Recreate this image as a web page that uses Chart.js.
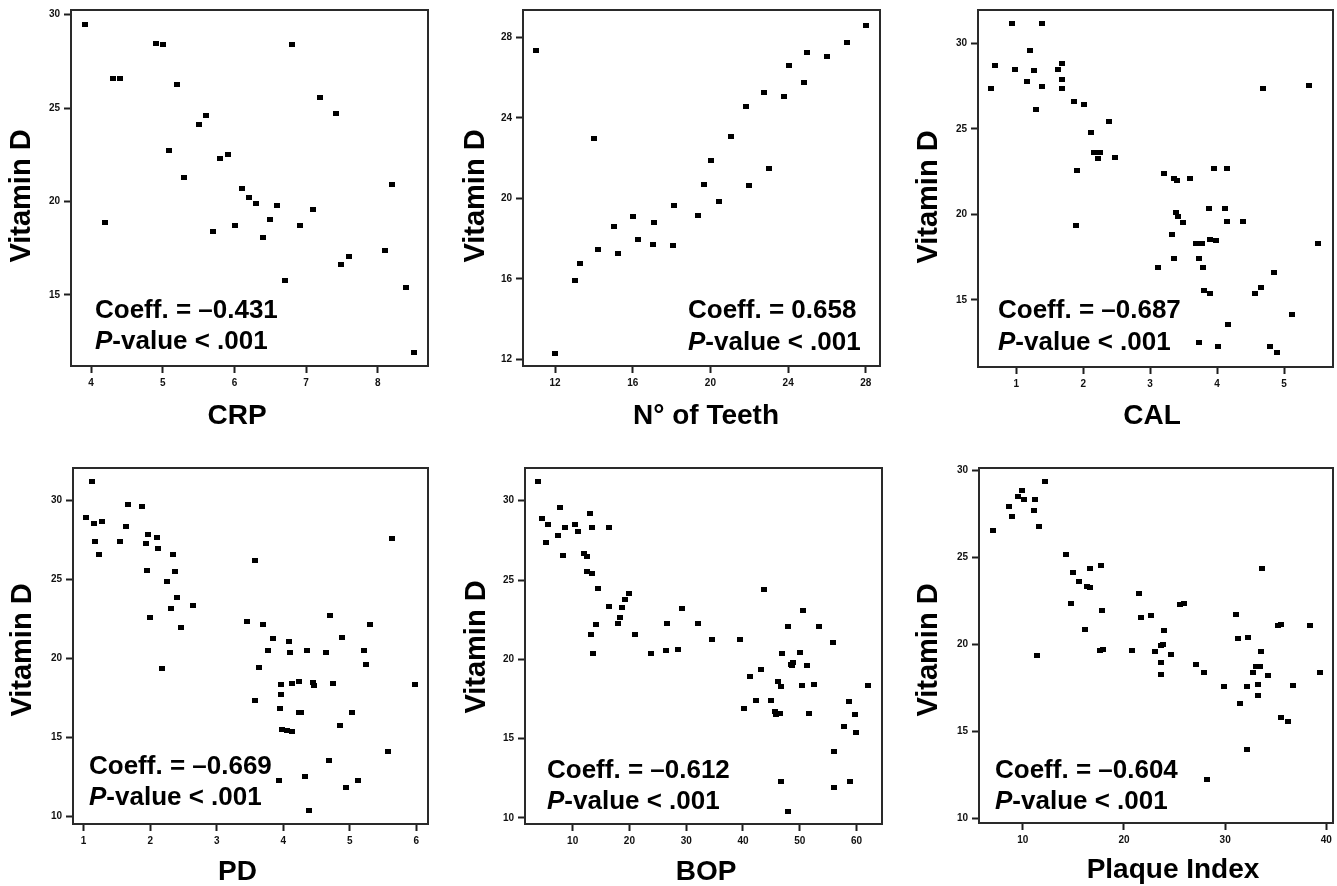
<!DOCTYPE html>
<html>
<head>
<meta charset="utf-8">
<script src="https://cdn.jsdelivr.net/npm/chart.js@4.4.1/dist/chart.umd.min.js"></script>
<style>
  html, body { margin: 0; padding: 0; background: #fff; overflow: hidden; }
  body { width: 1337px; height: 886px; position: relative; }
  canvas { position: absolute; }
</style>
</head>
<body>
<canvas id="c1" width="445" height="445" style="left:0;top:0"></canvas>
<canvas id="c2" width="445" height="445" style="left:445px;top:0"></canvas>
<canvas id="c3" width="447" height="445" style="left:890px;top:0"></canvas>
<canvas id="c4" width="445" height="436" style="left:0;top:450px"></canvas>
<canvas id="c5" width="445" height="436" style="left:445px;top:450px"></canvas>
<canvas id="c6" width="447" height="436" style="left:890px;top:450px"></canvas>
<script>
// --- data ---
const crpX = [3.91,4.20,4.30,4.40,4.90,5.01,5.09,5.20,5.30,5.51,5.60,5.70,5.80,5.91,6.01,6.10,6.20,6.30,6.40,6.49,6.60,6.70,6.80,6.91,7.09,7.20,7.41,7.49,7.60,8.10,8.20,8.40,8.50];
const crpY = [29.45,18.9,26.57,26.57,28.47,28.40,22.74,26.28,21.28,24.11,24.59,18.38,22.33,22.54,18.72,20.69,20.21,19.91,18.06,19.04,19.77,15.80,28.40,18.72,19.57,25.57,24.72,16.62,17.06,17.40,20.89,15.41,11.92];

const teethX = [11.04,12.0,13.01,13.27,14.03,14.23,15.04,15.25,16.0,16.26,17.07,17.05,18.12,18.07,19.37,19.65,20.02,20.42,21.04,21.81,22.0,22.74,23.01,23.80,24.03,24.80,24.99,26.0,27.03,28.0];
const teethY = [27.37,12.31,15.93,16.78,22.98,17.45,18.61,17.27,19.11,17.95,18.81,17.70,19.65,17.64,19.17,20.71,21.87,19.83,23.09,24.56,20.64,25.24,21.50,25.06,26.58,25.74,27.26,27.07,27.75,28.60];

const calX = [0.63,0.68,0.94,0.98,1.16,1.20,1.27,1.29,1.38,1.38,1.62,1.68,1.68,1.69,1.86,2.01,1.91,1.90,2.11,2.16,2.25,2.22,2.39,2.47,3.12,3.21,3.32,3.36,3.36,3.40,3.38,3.42,3.49,3.60,3.69,3.77,3.73,3.79,3.80,3.89,3.73,3.88,3.89,3.98,3.96,4.02,4.14,4.12,4.14,4.16,4.39,4.57,4.65,4.69,4.85,4.79,4.89,5.12,5.37,5.51];
const calY = [27.39,28.69,31.17,28.48,27.76,29.57,28.40,26.16,31.17,27.46,28.48,28.83,27.89,27.39,26.59,26.45,22.55,19.33,24.77,23.62,23.62,23.27,25.42,23.35,16.87,22.39,18.84,17.40,22.10,21.98,20.09,19.86,19.51,22.10,18.32,18.32,17.40,16.87,15.57,15.37,12.54,20.36,18.55,18.49,22.69,12.25,22.69,20.36,19.57,13.56,19.57,15.37,15.72,27.39,16.60,12.25,11.90,14.12,27.54,18.32];

const pdX = [1.04,1.13,1.16,1.17,1.23,1.28,1.54,1.64,1.67,1.87,1.93,1.95,1.97,1.99,2.10,2.12,2.18,2.25,2.31,2.34,2.38,2.40,2.47,2.64,3.46,3.58,3.57,3.64,3.70,3.77,3.84,3.94,3.95,3.97,3.97,3.98,4.05,4.13,4.08,4.10,4.13,4.23,4.23,4.27,4.32,4.36,4.38,4.45,4.46,4.64,4.68,4.70,4.75,4.86,4.88,4.95,5.03,5.12,5.22,5.24,5.31,5.57,5.63,5.98];
const pdY = [28.93,31.22,28.55,27.45,26.59,28.71,27.45,28.38,29.79,29.66,27.28,25.57,27.83,22.60,27.68,26.99,19.38,24.86,23.15,26.59,25.51,23.87,21.97,23.38,22.37,26.21,17.36,19.46,22.14,20.50,21.28,12.28,16.87,17.73,18.37,15.54,15.46,15.40,21.11,20.41,18.43,18.58,16.62,16.58,12.57,20.50,10.38,18.47,18.32,20.41,13.58,22.73,18.43,15.80,21.34,11.85,16.58,12.28,20.50,19.63,22.14,14.15,27.62,18.37];

const bopX = [3.95,4.65,5.30,5.71,7.47,7.71,8.30,8.71,10.47,11.0,12.06,12.53,12.47,13.11,13.35,13.47,13.17,13.58,14.05,14.52,16.46,16.46,17.93,18.40,18.70,19.22,19.93,21.05,23.81,26.57,26.45,28.63,29.33,32.09,34.5,39.55,40.14,41.32,42.37,43.26,43.67,45.0,45.6,45.9,46.13,46.55,46.66,46.78,46.96,48.0,48.0,48.43,48.84,48.66,50.0,50.42,50.66,51.3,51.7,52.6,53.42,55.95,56.13,56.13,57.83,58.77,58.94,59.77,60.0,62.06];
const bopY = [31.18,28.89,27.39,28.51,27.79,29.58,26.55,28.34,28.51,28.05,26.70,26.47,25.55,29.20,28.34,25.40,21.55,20.38,22.18,24.45,23.36,28.34,22.27,22.65,23.26,23.76,24.14,21.55,20.38,22.27,20.53,20.61,23.21,22.27,21.24,21.24,16.87,18.91,17.42,19.37,24.39,17.42,16.70,16.51,18.59,16.58,12.29,18.28,20.38,22.10,10.38,19.68,19.83,19.62,20.46,18.36,23.05,19.6,16.58,18.42,22.10,21.09,14.16,11.89,15.78,17.33,12.27,16.55,15.40,18.36];

const plaqueX = [7.02,8.59,8.95,9.51,9.93,10.07,11.25,11.11,11.61,11.41,12.23,14.30,14.79,14.92,15.51,16.13,16.36,16.62,16.62,17.74,17.84,17.61,17.90,20.75,21.48,21.70,22.69,23.11,23.64,23.84,23.93,23.70,23.70,24.66,25.57,25.93,27.11,27.93,28.20,29.90,31.11,31.31,31.48,32.20,32.20,32.30,32.75,33.05,33.44,33.28,33.28,33.57,33.67,34.26,35.18,35.51,35.51,36.23,36.69,38.43,39.38];
const plaqueY = [26.55,27.91,27.34,28.51,28.85,28.35,28.35,27.70,26.78,19.37,29.35,25.19,22.36,24.14,23.64,20.86,23.35,23.30,24.35,24.56,21.95,19.66,19.71,19.66,22.93,21.57,21.65,19.58,19.96,20.0,20.79,18.95,18.30,19.44,22.32,22.36,18.87,18.37,12.26,17.59,21.72,20.36,16.59,13.95,17.59,20.42,18.37,18.72,18.75,17.70,17.09,19.58,24.35,18.24,21.09,21.15,15.80,15.59,17.64,21.09,18.37];

// tick labels
const crpTicks = [4, 5, 6, 7, 8];
const teethTicks = [12, 16, 20, 24, 28];
const calTicks = [1, 2, 3, 4, 5];
const pdTicks = [1, 2, 3, 4, 5, 6];
const bopTicks = [10, 20, 30, 40, 50, 60];
const plaqueTicks = [10, 20, 30, 40];
const vitTicks15 = [15, 20, 25, 30];
const vitTicksTeeth = [12, 16, 20, 24, 28];
const vitTicks10 = [10, 15, 20, 25, 30];

const coeffs = ['Coeff. = \u20130.431', 'Coeff. = 0.658', 'Coeff. = \u20130.687',
                'Coeff. = \u20130.669', 'Coeff. = \u20130.612', 'Coeff. = \u20130.604'];
const xTitles = ['CRP', 'N\u00b0 of Teeth', 'CAL', 'PD', 'BOP', 'Plaque Index'];

const fam = '"Liberation Sans", Arial, sans-serif';

// small black rectangle used as the marker
const dot = document.createElement('canvas');
dot.width = 6; dot.height = 5;
dot.getContext('2d').fillRect(0, 0, 6, 5);

const panels = [
  { el: 'c1', x: crpX, y: crpY, xt: crpTicks, yt: vitTicks15, xr: [3.72, 8.70], yr: [11.2, 30.25],
    yW: 71, xH: 79, padT: 10, padR: 17, xPos: [237, 416], yPos: [22, 196], tx: 95, ty: [318, 349] },
  { el: 'c2', x: teethX, y: teethY, xt: teethTicks, yt: vitTicksTeeth, xr: [10.35, 28.73], yr: [11.67, 29.36],
    yW: 78, xH: 79, padT: 10, padR: 10, xPos: [261, 416], yPos: [31, 196], tx: 243, ty: [318, 350] },
  { el: 'c3', x: calX, y: calY, xt: calTicks, yt: vitTicks15, xr: [0.43, 5.73], yr: [11.08, 31.95],
    yW: 88, xH: 78, padT: 10, padR: 1, xPos: [262, 416], yPos: [39, 197], tx: 108, ty: [318, 350] },
  { el: 'c4', x: pdX, y: pdY, xt: pdTicks, yt: vitTicks10, xr: [0.84, 6.175], yr: [9.54, 32.07],
    yW: 73, xH: 62, padT: 18, padR: 17, xPos: [237.5, 422], yPos: [23, 200], tx: 89, ty: [324, 355] },
  { el: 'c5', x: bopX, y: bopY, xt: bopTicks, yt: vitTicks10, xr: [1.6, 64.5], yr: [9.62, 32.06],
    yW: 80, xH: 62, padT: 18, padR: 8, xPos: [261, 422], yPos: [31.5, 197], tx: 102, ty: [328, 359] },
  { el: 'c6', x: plaqueX, y: plaqueY, xt: plaqueTicks, yt: vitTicks10, xr: [5.67, 40.66], yr: [9.75, 30.15],
    yW: 89, xH: 63, padT: 18, padR: 2, xPos: [283, 420], yPos: [39, 200], tx: 105, ty: [328, 359] }
];

function axis(p, ticks, horizontal) {
  return {
    type: 'linear',
    min: horizontal ? p.xr[0] : p.yr[0],
    max: horizontal ? p.xr[1] : p.yr[1],
    afterBuildTicks: s => { s.ticks = ticks.map(v => ({ value: v })); },
    afterFit: s => { if (horizontal) s.height = p.xH; else s.width = p.yW; },
    border: { display: false },
    grid: { display: true, drawOnChartArea: false, drawTicks: true, tickLength: 7, tickWidth: 2, tickColor: '#1e1e1e' },
    ticks: { padding: 4, color: '#111', autoSkip: false, maxRotation: 0,
             font: { family: fam, size: 10, weight: 'bold' } }
  };
}

panels.forEach((p, i) => {
  const texts = {
    id: 'texts',
    afterDraw(chart) {
      const { ctx, chartArea: a } = chart;
      ctx.save();
      // frame around the plot
      ctx.strokeStyle = '#2a2a2a';
      ctx.lineWidth = 2;
      ctx.strokeRect(a.left, a.top, a.right - a.left, a.bottom - a.top);

      ctx.fillStyle = '#000';
      ctx.textAlign = 'center';
      ctx.textBaseline = 'middle';
      ctx.font = 'bold 28px ' + fam;
      ctx.fillText(xTitles[i], p.xPos[0], p.xPos[1]);

      ctx.save();
      ctx.translate(p.yPos[0], p.yPos[1]);
      ctx.rotate(-Math.PI / 2);
      ctx.font = 'bold 29px ' + fam;
      ctx.fillText('Vitamin D', 0, 0);
      ctx.restore();

      ctx.textAlign = 'left';
      ctx.textBaseline = 'alphabetic';
      ctx.font = 'bold 26px ' + fam;
      ctx.fillText(coeffs[i], p.tx, p.ty[0]);
      ctx.font = 'italic bold 26px ' + fam;
      ctx.fillText('P', p.tx, p.ty[1]);
      const w = ctx.measureText('P').width;
      ctx.font = 'bold 26px ' + fam;
      ctx.fillText('-value < .001', p.tx + w, p.ty[1]);
      ctx.restore();
    }
  };

  new Chart(document.getElementById(p.el), {
    type: 'scatter',
    data: {
      datasets: [{
        data: p.x.map((v, k) => ({ x: v, y: p.y[k] })),
        pointStyle: dot,
        pointRadius: 3,
        pointHoverRadius: 3,
        backgroundColor: '#000',
        borderColor: '#000'
      }]
    },
    options: {
      responsive: false,
      animation: false,
      events: [],
      layout: { padding: { top: p.padT, right: p.padR, left: 0, bottom: 0 } },
      plugins: { legend: { display: false }, tooltip: { enabled: false } },
      scales: { x: axis(p, p.xt, true), y: axis(p, p.yt, false) }
    },
    plugins: [texts]
  });
});
</script>
</body>
</html>
